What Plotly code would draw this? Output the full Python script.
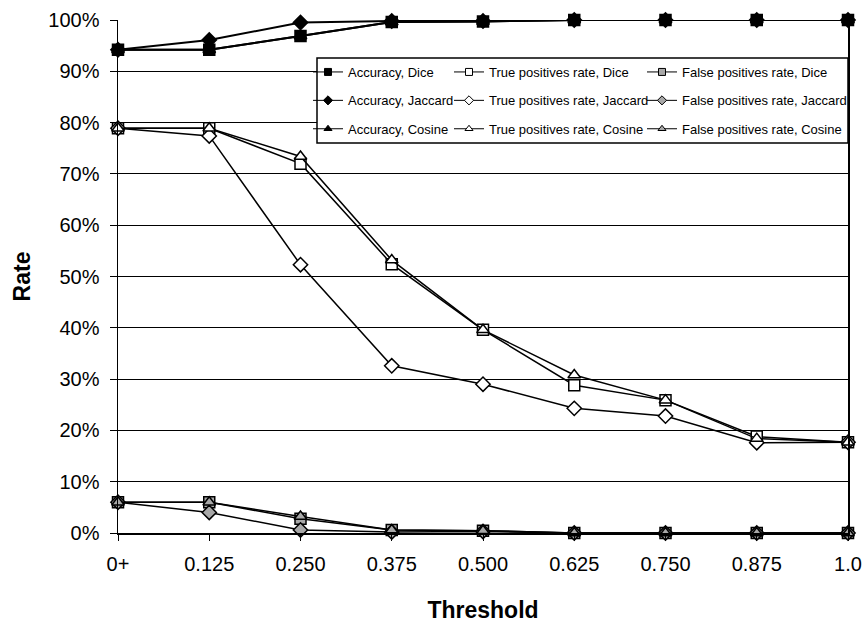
import plotly.graph_objects as go

thresholds = ["0+", "0.125", "0.250", "0.375", "0.500", "0.625", "0.750", "0.875", "1.0"]

acc_dice = [94.2, 94.2, 96.9, 99.6, 99.7, 100, 100, 100, 100]
acc_jaccard = [94.2, 96.1, 99.5, 99.8, 99.8, 100, 100, 100, 100]
acc_cosine = [94.2, 94.2, 96.9, 99.6, 99.7, 100, 100, 100, 100]

tp_dice = [78.9, 78.9, 72.0, 52.4, 39.6, 28.8, 25.9, 18.8, 17.7]
tp_jaccard = [78.9, 77.4, 52.3, 32.6, 29.0, 24.3, 22.8, 17.6, 17.7]
tp_cosine = [78.9, 78.9, 73.4, 53.2, 39.6, 30.8, 25.9, 18.4, 17.7]

fp_dice = [6.0, 6.0, 2.8, 0.6, 0.45, 0, 0, 0, 0]
fp_jaccard = [6.0, 4.0, 0.6, 0.2, 0.3, 0, 0, 0, 0]
fp_cosine = [6.0, 6.0, 3.2, 0.6, 0.45, 0, 0, 0, 0]

GRAY = "#a8a8a8"
FONT = "Liberation Sans, Arial, sans-serif"

series = [
    # name, values, symbol, fill, legend, line width
    ("Accuracy, Dice", acc_dice, "square", "black", "legend", 2),
    ("Accuracy, Jaccard", acc_jaccard, "diamond", "black", "legend", 2),
    ("Accuracy, Cosine", acc_cosine, "triangle-up", "black", "legend", 2),
    ("True positives rate, Dice", tp_dice, "square", "white", "legend2", 1.5),
    ("True positives rate, Jaccard", tp_jaccard, "diamond", "white", "legend2", 1.5),
    ("True positives rate, Cosine", tp_cosine, "triangle-up", "white", "legend2", 1.5),
    ("False positives rate, Dice", fp_dice, "square", GRAY, "legend3", 1.5),
    ("False positives rate, Jaccard", fp_jaccard, "diamond", GRAY, "legend3", 1.5),
    ("False positives rate, Cosine", fp_cosine, "triangle-up", GRAY, "legend3", 1.5),
]

fig = go.Figure()
for name, vals, sym, fill, leg, lw in series:
    fig.add_trace(go.Scatter(
        x=thresholds, y=vals, name=name, mode="lines+markers",
        line=dict(color="black", width=lw),
        marker=dict(symbol=sym, size=11, color=fill, line=dict(color="black", width=1.5)),
        showlegend=False, cliponaxis=False,
    ))
# legend-only entries with smaller symbols, as in the reference key
for name, vals, sym, fill, leg, lw in series:
    fig.add_trace(go.Scatter(
        x=[None], y=[None], name=name, mode="lines+markers",
        line=dict(color="black", width=1),
        marker=dict(symbol=sym, size=7, color=fill, line=dict(color="black", width=1)),
        legend=leg, legendgroup=name, showlegend=True,
    ))

W, H = 864, 623
L, T = 118, 20
R = W - 848
B = H - 533
pw = W - L - R
ph = H - T - B

def px_x(x):
    return (x - L) / pw

def px_y(y):
    return (H - B - y) / ph

legend_common = dict(
    font=dict(family=FONT, size=13, color="black"),
    bgcolor="rgba(0,0,0,0)", borderwidth=0,
    xanchor="left", yanchor="top", tracegroupgap=8.5,
    orientation="v",
)

fig.update_layout(
    width=W, height=H,
    margin=dict(l=L, r=R, t=T, b=B, autoexpand=False),
    paper_bgcolor="white", plot_bgcolor="white",
    font=dict(family=FONT, color="black"),
    legend=dict(x=px_x(308), y=px_y(57), **legend_common),
    legend2=dict(x=px_x(449), y=px_y(57), **legend_common),
    legend3=dict(x=px_x(642), y=px_y(57), **legend_common),
    shapes=[dict(type="rect", xref="paper", yref="paper",
                 x0=px_x(317), x1=px_x(848), y0=px_y(143), y1=px_y(58),
                 line=dict(color="black", width=1.5), fillcolor="white", layer="above")],
    xaxis=dict(
        type="category", range=[0, 8], automargin=False,
        showline=True, linecolor="black", linewidth=1.5, mirror=False,
        ticks="outside", ticklen=6, tickcolor="black", tickwidth=1,
        showgrid=False, zeroline=False, ticklabelstandoff=6,
        tickfont=dict(family=FONT, size=20, color="black"),
        title=dict(text="<b>Threshold</b>", font=dict(family=FONT, size=23, color="black"), standoff=38),
    ),
    yaxis=dict(
        range=[0, 100], dtick=10, ticksuffix="%", automargin=False,
        showline=True, linecolor="black", linewidth=1.5, mirror=True,
        ticks="outside", ticklen=7, tickcolor="black", tickwidth=1,
        showgrid=True, gridcolor="black", gridwidth=1, zeroline=False,
        ticklabelstandoff=6,
        tickfont=dict(family=FONT, size=20, color="black"),
        title=dict(text="<b>Rate</b>", font=dict(family=FONT, size=23, color="black"), standoff=11),
    ),
)

# remove the default 8px page margin so the 864x623 figure fills the window
fig.write_html(
    "out.html",
    config={"displayModeBar": False, "staticPlot": True},
    post_script="document.body.style.margin='0';document.body.style.overflow='hidden';",
)
